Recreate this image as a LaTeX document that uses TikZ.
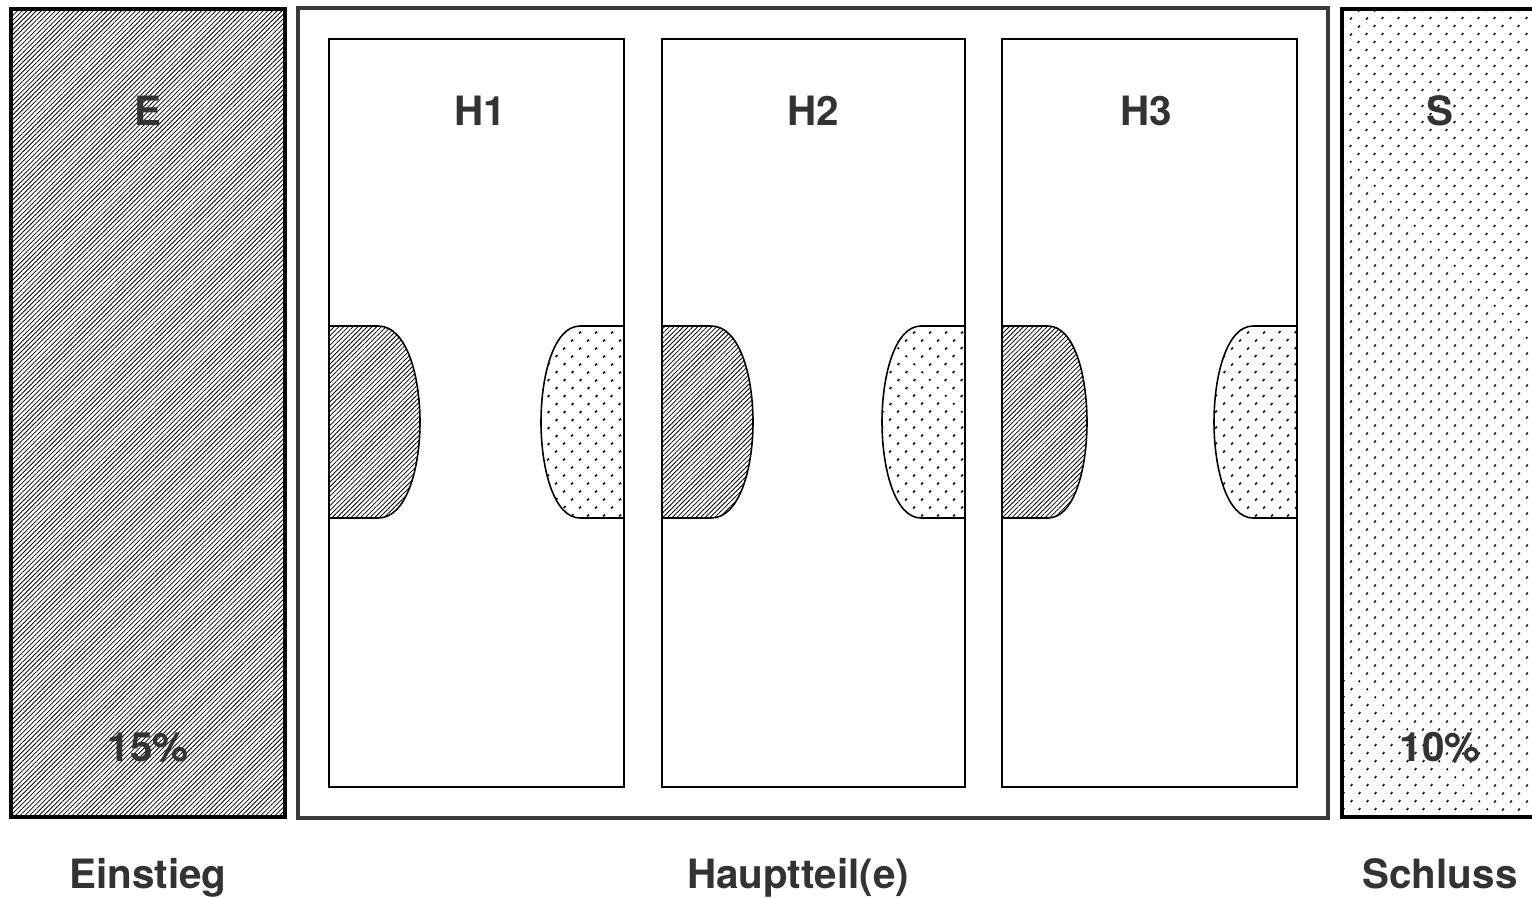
\documentclass[tikz,border=0pt]{standalone}
\usepackage{fontspec}
\setmainfont{TeX Gyre Heros}
\usetikzlibrary{patterns.meta}

\definecolor{textgray}{HTML}{333333}
\definecolor{framegray}{HTML}{3A3A3A}

\begin{document}
\begin{tikzpicture}[
  x=0.02cm, y=-0.02cm,
  hatch/.style={pattern={Lines[angle=45,distance=1.9pt,line width=.45pt]}},
  dotty/.style={pattern={Dots[angle=45,distance=6.4pt,radius=.8pt]}},
  outerbox/.style={draw=black, line width=2.2pt},
  mainframe/.style={draw=framegray, line width=1.8pt},
  partbox/.style={draw=black, line width=.9pt},
  bump/.style={draw=black, line width=.9pt},
  label/.style={text=textgray, font=\bfseries\fontsize{23}{27}\selectfont, anchor=base, inner sep=0pt}
]
  \clip (0,0) rectangle (1532,897);
  \fill[white] (0,0) rectangle (1532,897);

  % Einstieg and Schluss
  \draw[outerbox, hatch] (11,9) rectangle (285,817);
  \draw[outerbox, dotty] (1342,9) rectangle (1560,817);
  % Hauptteil frame
  \draw[mainframe] (298,8) rectangle (1328,818);

  % the three Hauptteile with their bumps
  \foreach \n/\l/\r/\c/\w in {1/329/624/480/91, 2/662/965/813/91, 3/1002/1297/1146/85}{
    \draw[bump, hatch] (\l,326) -- ({\l+0.54*\w},326)
      .. controls ({\l+0.85*\w},326) and ({\l+\w},375) .. ({\l+\w},422)
      .. controls ({\l+\w},469) and ({\l+0.85*\w},518) .. ({\l+0.54*\w},518)
      -- (\l,518) -- cycle;
    \draw[bump, dotty] (\r,326) -- ({\r-44},326)
      .. controls ({\r-70},326) and ({\r-83},375) .. ({\r-83},422)
      .. controls ({\r-83},469) and ({\r-70},518) .. ({\r-44},518)
      -- (\r,518) -- cycle;
    \draw[partbox] (\l,39) rectangle (\r,787);
    \node[label] (h\n) at (\c,125) {H\n};
  }

  \node[label] (e) at (148,125) {E};
  \node[label] (s) at (1440,125) {S};
  \node[label] (ep) at (148,761) {15\%};
  \node[label] (sp) at (1440,761) {10\%};

  \node[label] (einstieg) at (148,888) {Einstieg};
  \node[label] (haupt) at (798,888) {Hauptteil(e)};
  \node[label] (schluss) at (1440,888) {Schluss};
\end{tikzpicture}
\end{document}
